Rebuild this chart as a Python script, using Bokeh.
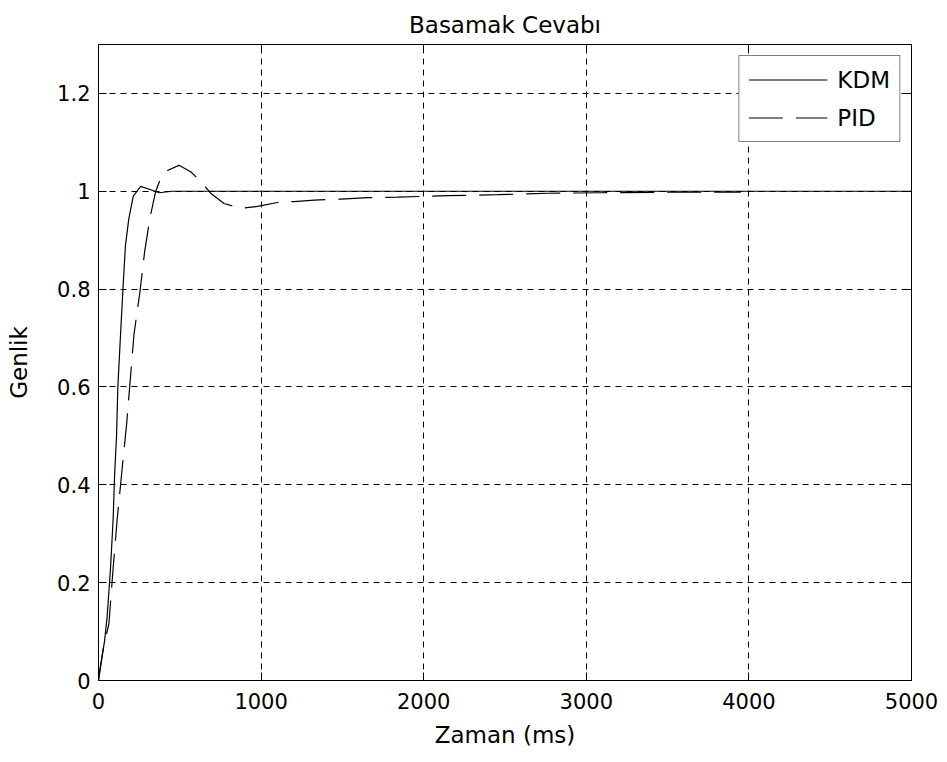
from bokeh.plotting import figure
from bokeh.models import Range1d, LinearAxis, FixedTicker, Legend, LegendItem
from bokeh.embed import file_html
from bokeh.resources import INLINE

# ---- data ----
kdm_t = [0, 12, 37, 53, 74, 90, 99, 111, 119, 136, 152, 166, 187, 214, 259, 331, 372, 454, 600, 1000, 2000, 3000, 4000, 5000]
kdm_v = [0, 0.03, 0.08, 0.13, 0.23, 0.33, 0.42, 0.50, 0.60, 0.71, 0.81, 0.89, 0.945, 0.99, 1.01, 1.002, 0.997, 1.0, 1.0, 1.0, 1.0, 1.0, 1.0, 1.0]

pid_t = [0, 31, 64, 90, 115, 146, 173, 193, 218, 255, 284, 316, 351, 382, 427, 495, 567, 629, 690, 772, 875, 978, 1101, 1203, 1326, 1492, 1656, 1841, 2149, 2457, 2765, 3100, 3500, 3950]
pid_v = [0, 0.068, 0.116, 0.23, 0.33, 0.435, 0.524, 0.605, 0.707, 0.795, 0.877, 0.945, 0.999, 1.026, 1.043, 1.053, 1.040, 1.02, 0.996, 0.975, 0.965, 0.969, 0.977, 0.979, 0.982, 0.984, 0.987, 0.988, 0.991, 0.993, 0.996, 0.997, 0.998, 0.998]

x_ticks = [0, 1000, 2000, 3000, 4000, 5000]
y_ticks = [0, 0.2, 0.4, 0.6, 0.8, 1.0, 1.2]
y_tick_labels = {0: "0", 0.2: "0.2", 0.4: "0.4", 0.6: "0.6", 0.8: "0.8", 1.0: "1", 1.2: "1.2"}

title_text = "Basamak Cevabı"
x_label = "Zaman (ms)"
y_label = "Genlik"
series_names = ["KDM", "PID"]

FONT = "DejaVu Sans"
FS_TICK = "21px"
FS_LAB = "23px"

p = figure(frame_width=813, frame_height=636,
           min_border_left=98, min_border_right=36, min_border_top=44, min_border_bottom=82,
           x_range=Range1d(0, 5000), y_range=Range1d(0, 1.3),
           output_backend="svg", toolbar_location=None,
           title=title_text, background_fill_color="white", border_fill_color="white")

p.title.align = "center"
p.title.vertical_align = "top"
p.title.text_font = FONT
p.title.text_font_size = FS_LAB
p.title.text_font_style = "normal"
p.title.text_color = "black"
p.title.standoff = 10

p.outline_line_color = "black"
p.outline_line_width = 1

def style_axis(ax, show_labels=True):
    ax.axis_line_color = "black"
    ax.axis_line_width = 1
    ax.major_tick_in = 8
    ax.major_tick_out = 0
    ax.minor_tick_line_color = None
    ax.major_tick_line_color = "black"
    ax.major_label_text_font = FONT
    ax.axis_label_text_font = FONT
    ax.axis_label_text_font_size = FS_LAB
    ax.axis_label_text_font_style = "normal"
    ax.axis_label_text_color = "black"
    if show_labels:
        ax.major_label_text_font_size = FS_TICK
        ax.major_label_text_color = "black"
    else:
        ax.major_label_text_color = None
        ax.major_label_text_font_size = "0px"
        ax.major_label_standoff = 0

xa = p.xaxis[0]
ya = p.yaxis[0]
xa.ticker = FixedTicker(ticks=x_ticks)
ya.ticker = FixedTicker(ticks=y_ticks)
ya.major_label_overrides = y_tick_labels
style_axis(xa)
style_axis(ya)
xa.axis_label = x_label
ya.axis_label = y_label
xa.major_label_standoff = 12
ya.major_label_standoff = 8
xa.axis_label_standoff = 10
ya.axis_label_standoff = 22

ra = LinearAxis(ticker=FixedTicker(ticks=y_ticks))
style_axis(ra, show_labels=False)
p.add_layout(ra, "right")
ta = LinearAxis(ticker=FixedTicker(ticks=x_ticks))
style_axis(ta, show_labels=False)
p.add_layout(ta, "above")

p.xgrid.ticker = FixedTicker(ticks=x_ticks)
p.ygrid.ticker = FixedTicker(ticks=y_ticks)
for g in (p.xgrid, p.ygrid):
    g.grid_line_color = "black"
    g.grid_line_dash = "6 5"
    g.grid_line_width = 1

r1 = p.line(kdm_t, kdm_v, line_color="black", line_width=1.2)
r2 = p.line(pid_t, pid_v, line_color="black", line_width=1.2, line_dash="34 13")

legend = Legend(items=[LegendItem(label=series_names[0], renderers=[r1]),
                       LegendItem(label=series_names[1], renderers=[r2])],
                location="top_right", margin=11, padding=9, spacing=9,
                glyph_width=79, glyph_height=29, label_height=29, label_standoff=10,
                label_text_font=FONT, label_text_font_size=FS_LAB, label_text_color="black",
                border_line_color="black", border_line_width=1,
                background_fill_color="white", background_fill_alpha=1.0)
p.add_layout(legend, "center")

open("out.html", "w").write(file_html(p, INLINE))
